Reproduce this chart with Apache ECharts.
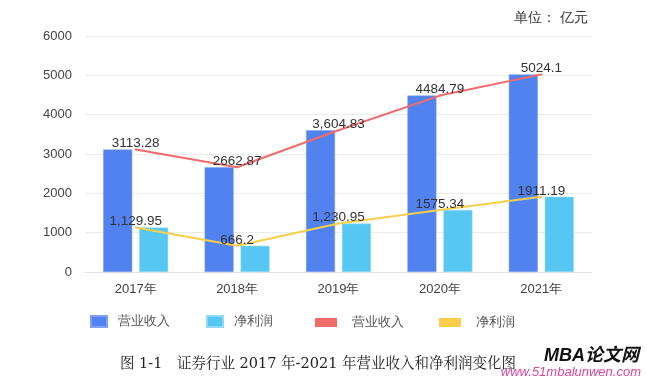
<!DOCTYPE html>
<html>
<head>
<meta charset="utf-8">
<style>html,body{margin:0;padding:0;background:#fff;}#c{width:647px;height:381px;}</style>
<script src="https://cdn.jsdelivr.net/npm/echarts@6/dist/echarts.min.js"></script>
</head>
<body>
<div id="c"></div>
<script>
var categories = ['2017年', '2018年', '2019年', '2020年', '2021年'];
var revenue = [3113.28, 2662.87, 3604.83, 4484.79, 5024.1];
var profit = [1129.95, 666.2, 1230.95, 1575.34, 1911.19];
var revenueLabels = ['3113.28', '2662.87', '3,604.83', '4484.79', '5024.1'];
var profitLabels = ['1,129.95', '666.2', '1,230.95', '1575.34', '1911.19'];
var yTicks = [0, 1000, 2000, 3000, 4000, 5000, 6000];
var unitText = '单位： 亿元';
var captionText = '图 1-1　证券行业 2017 年-2021 年营业收入和净利润变化图';

var chart = echarts.init(document.getElementById('c'));
var legendNames = {'营业收入': '营业收入', '净利润': '净利润', '营业收入L': '营业收入', '净利润L': '净利润'};
var font = 'Liberation Sans, Arial, sans-serif';
chart.setOption({
  animation: false,
  textStyle: {fontFamily: font},
  grid: {left: 85, right: 55, top: 36, bottom: 109},
  title: {text: unitText, right: 54, top: 6, textStyle: {fontSize: 14, fontWeight: 'normal', color: '#333'}},
  legend: [{
    data: ['营业收入', '净利润'], left: 90, top: 315, icon: 'rect', padding: 0,
    itemWidth: 16, itemHeight: 11, itemGap: 36,
    formatter: function (n) { return legendNames[n]; },
    textStyle: {fontSize: 13, color: '#555', padding: [0, 0, 0, 6]}
  }, {
    data: ['营业收入L', '净利润L'], left: 315, top: 316, icon: 'rect', padding: 0,
    itemWidth: 22, itemHeight: 9, itemGap: 35,
    formatter: function (n) { return legendNames[n]; },
    textStyle: {fontSize: 13, color: '#555', padding: [0, 0, 0, 10]}
  }],
  xAxis: {
    type: 'category', data: categories,
    axisLine: {lineStyle: {color: '#e3e3e3'}}, axisTick: {show: false},
    axisLabel: {fontSize: 13, color: '#444', margin: 11}
  },
  yAxis: {
    type: 'value', min: yTicks[0], max: yTicks[yTicks.length - 1], interval: 1000,
    axisLine: {show: false}, axisTick: {show: false},
    axisLabel: {fontSize: 13, color: '#444', margin: 13, formatter: function (v) { return String(v); }},
    splitLine: {lineStyle: {color: '#ebebeb'}}
  },
  series: [{
    name: '营业收入', type: 'bar', data: revenue, barWidth: 29, barGap: '24%',
    itemStyle: {color: '#5282F0', borderColor: '#7fa0f5', borderWidth: 0.5}
  }, {
    name: '净利润', type: 'bar', data: profit, barWidth: 29,
    itemStyle: {color: '#56C7F2', borderColor: '#8fdaf6', borderWidth: 0.5}
  }, {
    name: '营业收入L', type: 'line', data: revenue, showSymbol: true, symbol: 'circle', symbolSize: 2,
    lineStyle: {color: '#F26B6B', width: 2}, itemStyle: {color: '#F26B6B'},
    label: {show: true, position: 'top', distance: -2, fontSize: 13.5, color: '#333',
      formatter: function (p) { return revenueLabels[p.dataIndex]; }}
  }, {
    name: '净利润L', type: 'line', data: profit, showSymbol: true, symbol: 'circle', symbolSize: 2,
    lineStyle: {color: '#F7CF4A', width: 2}, itemStyle: {color: '#F7CF4A'},
    label: {show: true, position: 'top', distance: -2, fontSize: 13.5, color: '#333',
      formatter: function (p) { return profitLabels[p.dataIndex]; }}
  }],
  graphic: [{
    type: 'text', left: 120, top: 357,
    style: {text: captionText, font: '14.5px "DejaVu Serif", "Noto Serif CJK SC", serif', fill: '#222'}
  }, {
    type: 'text', right: 8, top: 347,
    style: {text: 'MBA论文网', font: 'italic bold 18px "Liberation Sans", "Noto Sans CJK SC", sans-serif', fill: '#111'}
  }, {
    type: 'text', right: 6, top: 366,
    style: {text: 'www.51mbalunwen.com', font: 'italic 13px "Liberation Sans", sans-serif', fill: '#d9459a'}
  }]
});
</script>
</body>
</html>
